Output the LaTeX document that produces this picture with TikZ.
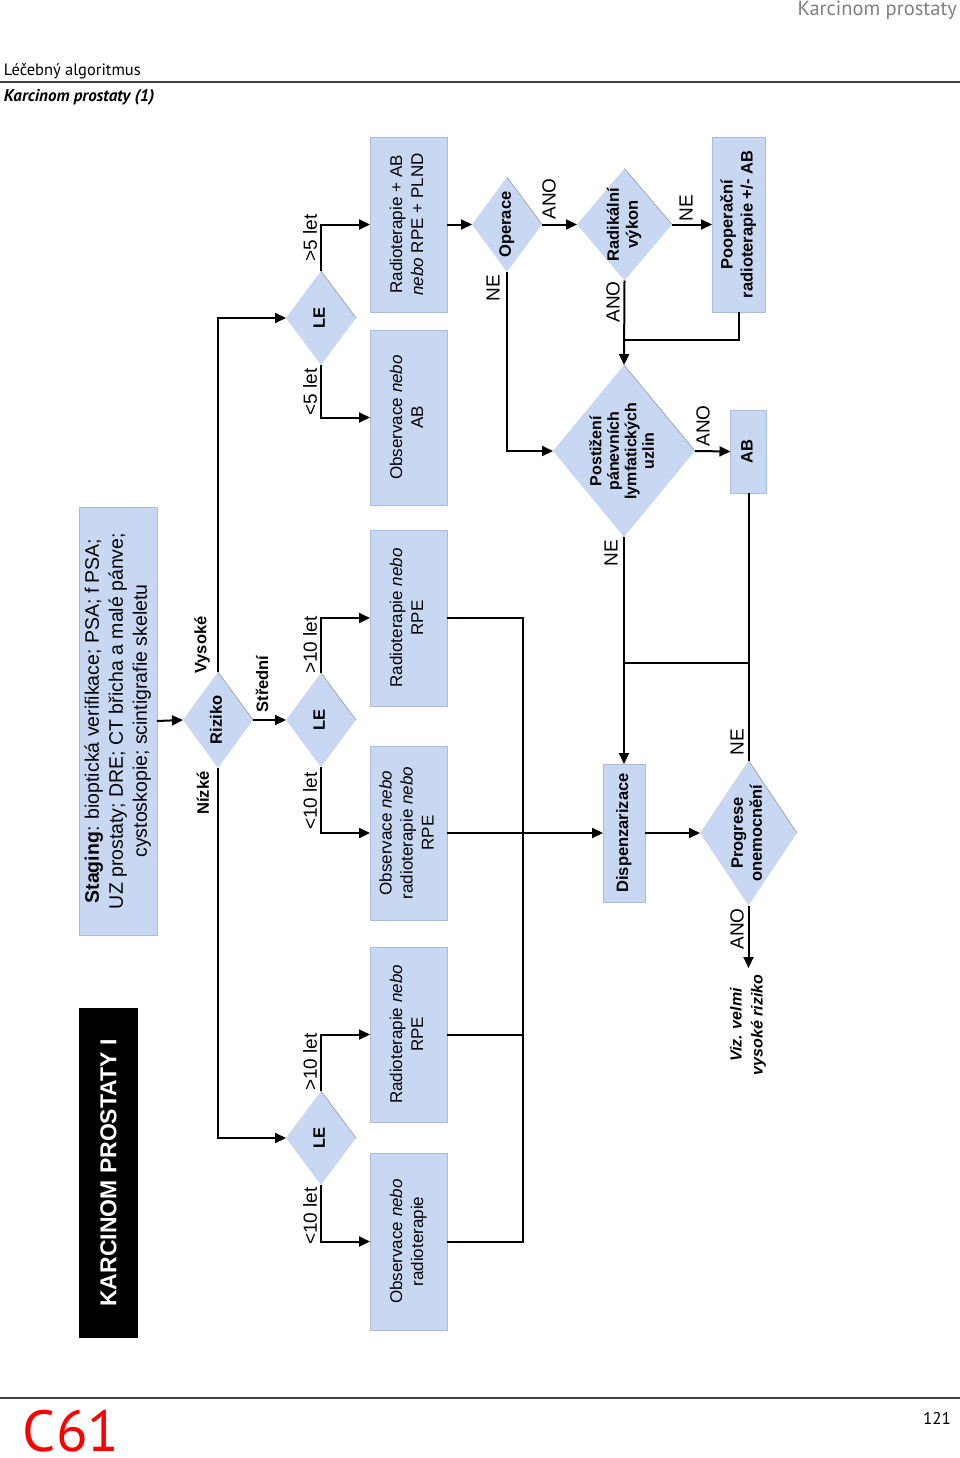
\documentclass[tikz,border=0pt]{standalone}
\usepackage{fontspec}
\setmainfont{Liberation Sans}
\newfontfamily\hdr{PT Sans}
\usetikzlibrary{shapes.geometric,arrows.meta}
\definecolor{boxblue}{RGB}{201,216,242}
\definecolor{boxedge}{RGB}{168,188,222}
\newcommand\rotx[1]{\rotatebox{90}{\begin{tabular}{@{}c@{}}#1\end{tabular}}}
\begin{document}
\begin{tikzpicture}[x=1pt,y=-1pt,
 every node/.style={inner sep=0pt, outer sep=0pt},
 bx/.style={rectangle, fill=boxblue, draw=boxedge, line width=0.6pt, font=\fontsize{17}{21}\selectfont},
 bbx/.style={bx, font=\bfseries\fontsize{16.5}{20}\selectfont},
 dia/.style={diamond, fill=boxblue, aspect=1},
 dtx/.style={font=\bfseries\fontsize{16.5}{19}\selectfont},
 lab/.style={font=\fontsize{19}{22}\selectfont, rotate=90},
 blab/.style={font=\bfseries\fontsize{16.5}{19}\selectfont, rotate=90},
 ln/.style={line width=2pt},
 ar/.style={ln, -{Triangle[length=11pt,width=10pt]}},
 shd/.style={gray!70, line width=0.8pt},
 rule/.style={line width=1.2pt, black!75}
]
\useasboundingbox (0,0) rectangle (960,1458);

% header / footer
\node[anchor=east, text=gray, font=\hdr\fontsize{20.5}{22}\selectfont] (hd) at (957,10.5) {Karcinom prostaty};
\node[anchor=west, font=\hdr\fontsize{16.5}{18}\selectfont] (h2) at (4,71) {Léčebný algoritmus};
\draw[rule] (0,82) -- (960,82);
\node[anchor=west, font=\hdr\bfseries\itshape\fontsize{17}{18}\selectfont] (h3) at (4,97) {Karcinom prostaty (1)};
\draw[rule] (0,1398) -- (960,1398);
\node[anchor=base west, text=red, font=\hdr\fontsize{58}{58}\selectfont] (c61) at (23,1451) {C61};
\node[font=\hdr\fontsize{17}{20}\selectfont] (pg) at (937,1418) {121};

% title and staging
\node[rectangle, fill=black, minimum width=59pt, minimum height=330pt] (title) at (108.5,1173)
  {\rotatebox{90}{\color{white}\bfseries\fontsize{23}{26}\selectfont KARCINOM PROSTATY I}};
\node[bx, minimum width=78pt, minimum height=428pt, font=\fontsize{19.5}{24}\selectfont] (stg) at (118,721)
  {\rotx{\textbf{Staging}: bioptická verifikace; PSA; f PSA;\\UZ prostaty; DRE; CT břicha a malé pánve;\\cystoskopie; scintigrafie skeletu}};

% diamonds
\node[dia, minimum width=70pt, minimum height=96pt] (riz) at (218,720) {};
\node[dtx] (rizt) at (riz) {\rotx{Riziko}};
\node[dia, minimum width=70pt, minimum height=94pt] (le1) at (321,318) {};
\node[dtx] (le1t) at (le1) {\rotx{LE}};
\node[dia, minimum width=70pt, minimum height=94pt] (le2) at (321,720) {};
\node[dtx] (le2t) at (le2) {\rotx{LE}};
\node[dia, minimum width=70pt, minimum height=94pt] (le3) at (321,1138) {};
\node[dtx] (le3t) at (le3) {\rotx{LE}};
\node[dia, minimum width=70pt, minimum height=95pt] (op) at (507,224.5) {};
\node[dtx] (opt) at (op) {\rotx{Operace}};
\node[dia, minimum width=95pt, minimum height=112pt] (rad) at (624.5,224.5) {};
\node[dtx] (radt) at (rad) {\rotx{Radikální\\výkon}};
\node[dia, minimum width=142pt, minimum height=172pt] (post) at (624,451) {};
\node[dtx, font=\bfseries\fontsize{16}{17.5}\selectfont] (postt) at (post) {\rotx{Postižení\\pánevních\\lymfatických\\uzlin}};
\node[dia, minimum width=97pt, minimum height=145pt] (prog) at (748.5,833) {};
\node[dtx] (progt) at (prog) {\rotx{Progrese\\onemocnění}};
\foreach \d in {riz,le1,le2,le3,op,rad,post,prog} \draw[shd] (\d.north) -- (\d.east);

% boxes
\node[bx, minimum width=77pt, minimum height=175pt] (b1) at (408.5,224.5) {\rotx{Radioterapie + AB\\\textit{nebo} RPE + PLND}};
\node[bx, minimum width=77pt, minimum height=175pt] (b2) at (408.5,417.5) {\rotx{Observace \textit{nebo}\\AB}};
\node[bx, minimum width=77pt, minimum height=176pt] (b3) at (408.5,618) {\rotx{Radioterapie \textit{nebo}\\RPE}};
\node[bx, minimum width=77pt, minimum height=174pt] (b4) at (408.5,833) {\rotx{Observace \textit{nebo}\\radioterapie \textit{nebo}\\RPE}};
\node[bx, minimum width=77pt, minimum height=175pt] (b5) at (408.5,1034.5) {\rotx{Radioterapie \textit{nebo}\\RPE}};
\node[bx, minimum width=77pt, minimum height=177pt] (b6) at (408.5,1241.5) {\rotx{Observace \textit{nebo}\\radioterapie}};
\node[bbx, minimum width=53pt, minimum height=175pt] (poop) at (738.5,224.5) {\rotx{Pooperační\\radioterapie +/- AB}};
\node[bbx, minimum width=36pt, minimum height=83pt] (ab) at (748.5,451.5) {\rotx{AB}};
\node[bbx, minimum width=42pt, minimum height=138pt] (disp) at (624,833) {\rotx{Dispenzarizace}};
\node[font=\bfseries\itshape\fontsize{16}{21}\selectfont, rotate=90, align=center] (viz) at (748,1025) {Viz. velmi\\vysoké riziko};

% labels
\node[blab] (lvys) at (202,645) {Vysoké};
\node[blab] (lniz) at (203,793) {Nízké};
\node[blab] (lstr) at (262,684) {Střední};
\node[lab] (l1a) at (310,238) {>5 let};
\node[lab] (l1b) at (310,392) {<5 let};
\node[lab] (l2a) at (310,645) {>10 let};
\node[lab] (l2b) at (310,801) {<10 let};
\node[lab] (l3a) at (310,1062) {>10 let};
\node[lab] (l3b) at (310,1216) {<10 let};
\node[lab] (lopn) at (493,288) {NE};
\node[lab] (lopa) at (549,199) {ANO};
\node[lab] (lradn) at (686,208) {NE};
\node[lab] (lrada) at (613,302) {ANO};
\node[lab] (lposa) at (703,426) {ANO};
\node[lab] (lposn) at (611,553) {NE};
\node[lab] (lprgn) at (737,742) {NE};
\node[lab] (lprga) at (737,929) {ANO};

% coordinates
\coordinate (busB) at (523,1241.5);
\coordinate (j1) at (624,663);
\coordinate (j2) at (748.5,663);
\coordinate (j3) at (624.5,340);
\coordinate (vizend) at (748.5,968);

% connectors
\draw[ar] (stg.east) -- (riz.west);
\draw[ar] (riz.north) |- (le1.west);
\draw[ar] (riz.east) -- (le2.west);
\draw[ar] (riz.south) |- (le3.west);
\draw[ar] (le1.north) |- (b1.west);
\draw[ar] (le1.south) |- (b2.west);
\draw[ar] (le2.north) |- (b3.west);
\draw[ar] (le2.south) |- (b4.west);
\draw[ar] (le3.north) |- (b5.west);
\draw[ar] (le3.south) |- (b6.west);
\draw[ln] (b3.east) -| (busB) -- (b6.east);
\draw[ln] (b5.east) -- (b5.east -| busB);
\draw[ar] (b4.east) -- (disp.west);
\draw[ar] (b1.east) -- (op.west);
\draw[ar] (op.east) -- (rad.west);
\draw[ar] (rad.east) -- (poop.west);
\draw[ar] (rad.south) -- (post.north);
\draw[ln] (poop.south) |- (j3);
\draw[ar] (op.south) |- (post.west);
\draw[ar] (post.east) -- (ab.west);
\draw[ar] (post.south) -- (disp.north);
\draw[ln] (ab.south) -- (prog.north);
\draw[ln] (j1) -- (j2);
\draw[ar] (disp.east) -- (prog.west);
\draw[ar] (prog.south) -- (vizend);
\end{tikzpicture}
\end{document}
